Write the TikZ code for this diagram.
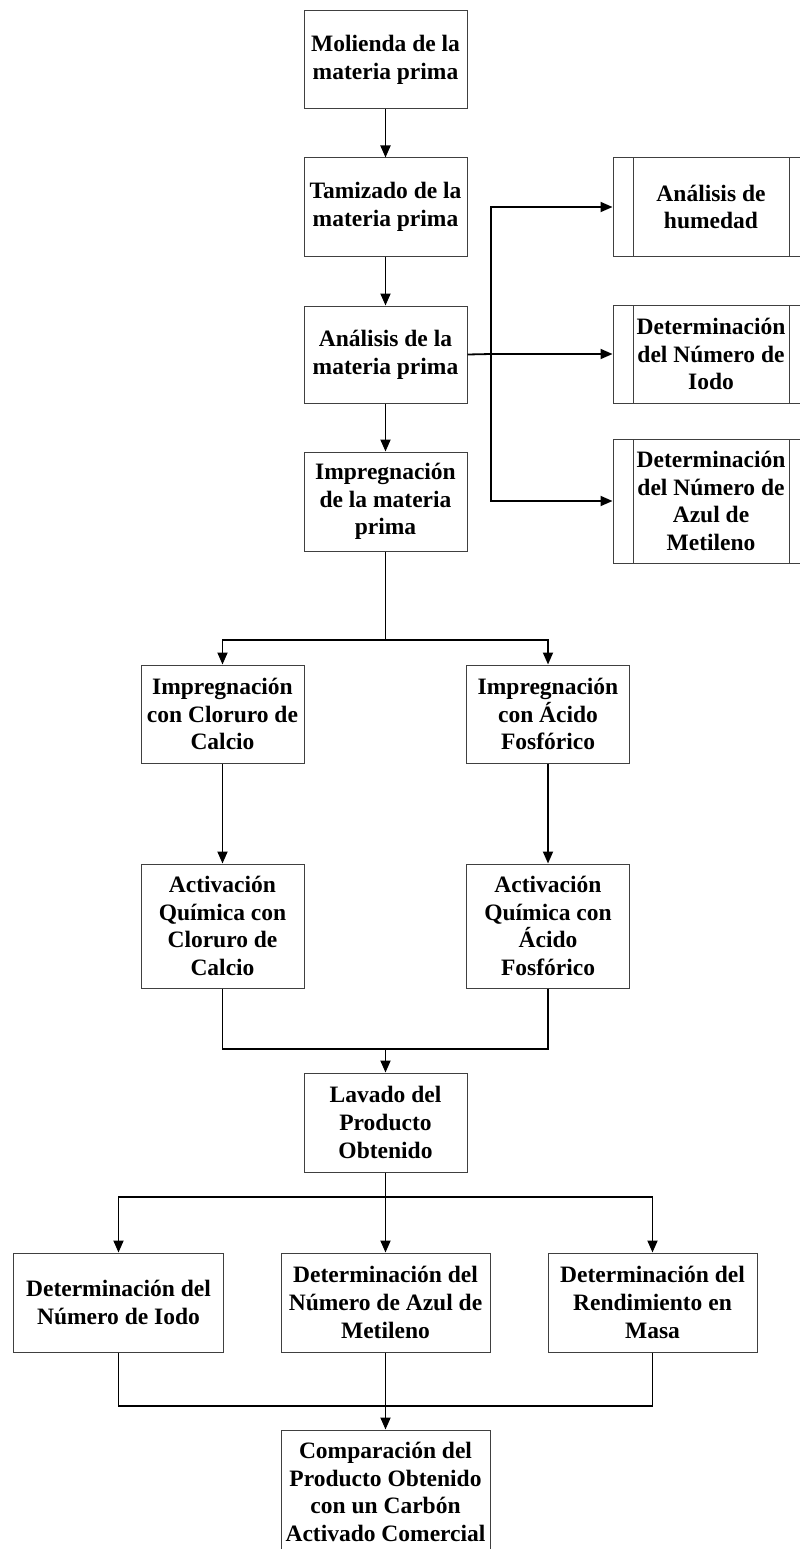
\documentclass[tikz,border=0pt]{standalone}
\usepackage{fontspec}
\setmainfont{Liberation Serif}
\usetikzlibrary{positioning, arrows.meta}

\begin{document}
\begin{tikzpicture}[
				x=1bp, y=-1bp,
				box/.style={draw=black!75, line width=1bp, align=center, inner sep=0pt,
					minimum width=163bp, minimum height=98bp,
					font=\fontsize{23.5bp}{27.7bp}\selectfont\bfseries},
				wide/.style={box, minimum width=209bp},
				subproc/.style={box, minimum width=196bp,
					path picture={\draw[black!75, line width=1bp]
						([xshift=20bp]path picture bounding box.north west) -- ([xshift=20bp]path picture bounding box.south west)
						([xshift=-20bp]path picture bounding box.north east) -- ([xshift=-20bp]path picture bounding box.south east);}},
				link/.style={line width=1.8bp},
				flow/.style={link, -{Triangle[length=12bp, width=10bp]}}]
				
				\useasboundingbox (0,0) rectangle (799,1549);
				
				% main column
				\node[box, minimum height=97bp] (molienda) at (385.5,59.5) {Molienda de la\\materia prima};
				\node[box] (tamizado) at (385.5,207) {Tamizado de la\\materia prima};
				\node[box, minimum height=97bp] (analisis) at (385.5,354.5) {Análisis de la\\materia prima};
				\node[box, minimum height=99bp] (impreg) at (385.5,501.5) {Impregnación\\de la materia\\prima};
				
				% analisis de la materia prima
				\node[subproc] (humedad) at (711,207) {Análisis de\\humedad};
				\node[subproc] (iodo) at (711,354) {Determinación\\del Número de\\Iodo};
				\node[subproc, minimum height=124bp] (azul) at (711,501) {Determinación\\del Número de\\Azul de\\Metileno};
				
				% two branches
				\node[box] (impCl) at (222.5,714) {Impregnación\\con Cloruro de\\Calcio};
				\node[box] (impAc) at (548,714) {Impregnación\\con Ácido\\Fosfórico};
				\node[box, minimum height=124bp] (actCl) at (222.5,926) {Activación\\Química con\\Cloruro de\\Calcio};
				\node[box, minimum height=124bp] (actAc) at (548,926) {Activación\\Química con\\Ácido\\Fosfórico};
				
				\node[box, minimum height=99bp] (lavado) at (385.5,1122.5) {Lavado del\\Producto\\Obtenido};
				
				\node[wide, minimum height=99bp] (detIodo) at (118.5,1302.5) {Determinación del\\Número de Iodo};
				\node[wide, minimum height=99bp] (detAzul) at (385.5,1302.5) {Determinación del\\Número de Azul de\\Metileno};
				\node[wide, minimum height=99bp] (detRend) at (652.5,1302.5) {Determinación del\\Rendimiento en\\Masa};
				\node[wide, minimum height=124bp] (comp) at (385.5,1492) {Comparación del\\Producto Obtenido\\con un Carbón\\Activado Comercial};
				
				\coordinate (branch) at (491,354);
				\coordinate (split1) at (385.5,640);
				\coordinate (merge1) at (385.5,1049);
				\coordinate (split2) at (385.5,1197);
				\coordinate (merge2) at (385.5,1406);
				
				\draw[flow] (molienda) -- (tamizado);
				\draw[flow] (tamizado) -- (analisis);
				\draw[flow] (analisis) -- (impreg);
				
				\draw[link] (analisis.east) -- (branch);
				\draw[flow] (branch) |- (humedad.west);
				\draw[flow] (branch) -- (iodo.west);
				\draw[flow] (branch) |- (azul.west);
				
				\draw[link] (impreg) -- (split1);
				\draw[flow] (split1) -| (impCl);
				\draw[flow] (split1) -| (impAc);
				\draw[flow] (impCl) -- (actCl);
				\draw[flow] (impAc) -- (actAc);
				
				\draw[link] (actCl) |- (merge1);
				\draw[link] (actAc) |- (merge1);
				\draw[flow] (merge1) -- (lavado);
				
				\draw[link] (lavado) -- (split2);
				\draw[flow] (split2) -| (detIodo);
				\draw[flow] (split2) -- (detAzul);
				\draw[flow] (split2) -| (detRend);
				
				\draw[link] (detIodo) |- (merge2);
				\draw[link] (detRend) |- (merge2);
				\draw[link] (detAzul) -- (merge2);
				\draw[flow] (merge2) -- (comp);
			\end{tikzpicture}
\end{document}
